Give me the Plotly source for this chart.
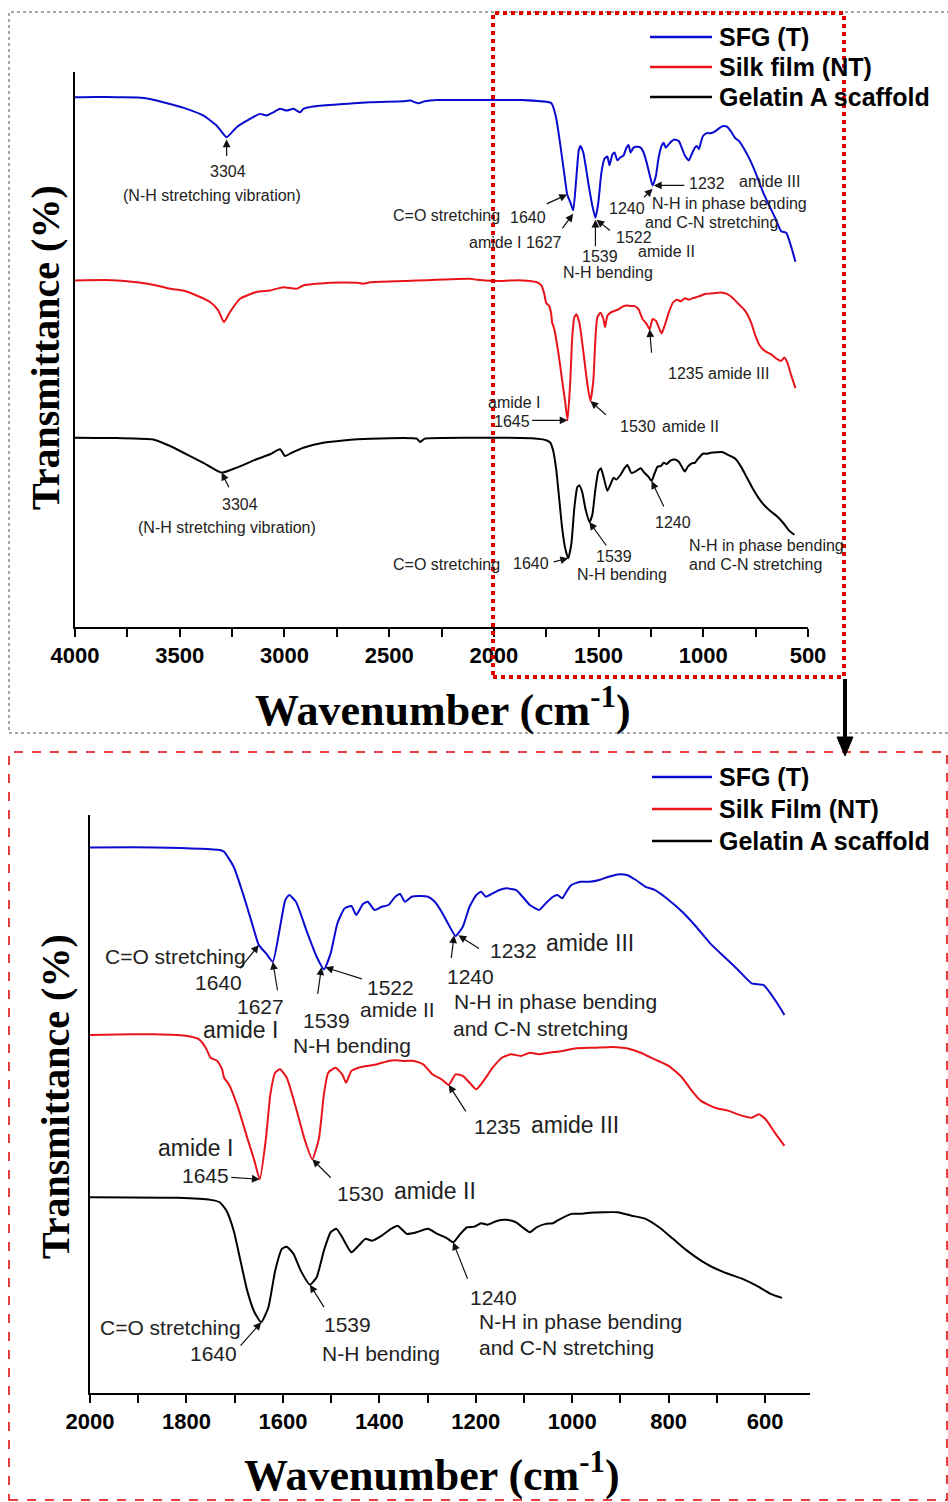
import plotly.graph_objects as go

W, H = 948, 1502

# ---------------- data (wavenumber cm-1, transmittance a.u.) ----------------
BLUE_WN = [4000, 3900, 3800, 3700, 3642, 3546, 3467, 3386, 3323, 3276,
           3228, 3164, 3117, 3085, 3053, 3021, 2989, 2957, 2925, 2910,
           2862, 2750, 2591, 2432, 2400, 2360, 2330, 2273, 2114,
           2000, 1866, 1731, 1722, 1702, 1683, 1664, 1650, 1635, 1621,
           1607, 1595, 1587, 1573, 1549, 1530, 1515, 1501, 1487, 1472,
           1458, 1448, 1434, 1424, 1410, 1395, 1381, 1367, 1357, 1347,
           1333, 1319, 1299, 1285, 1271, 1256, 1242, 1227, 1213, 1199,
           1189, 1179, 1165, 1151, 1136, 1117, 1103, 1088, 1069, 1055,
           1040, 1031, 1021, 1012, 1002, 983, 964, 944, 925, 906,
           887, 868, 848, 829, 800, 772, 743, 714, 685, 656,
           628, 604, 589, 575, 560]
BLUE_T = [101.4, 101.6, 101.4, 101.3, 100.5, 97.9, 95.4, 91.9, 86.7, 80.7,
          85.9, 90.2, 92.8, 92.0, 93.6, 95.4, 94.5, 95.4, 93.6, 95.4,
          96.6, 97.6, 98.8, 99.3, 99.7, 98.3, 99.3, 100, 100,
          100, 100, 98.7, 97.8, 90.3, 77, 62, 51.2, 47, 42.8,
          58.7, 73.7, 76.2, 72.8, 57, 45.3, 39, 47, 62, 69.5,
          70.7, 66.2, 71.7, 72.8, 68.7, 70.3, 71.2, 75.3, 76.7, 72.8,
          75.3, 75.7, 75.3, 72.8, 67.8, 61.2, 55.7, 60.3, 70.3, 76.2,
          77.8, 75.3, 77, 78.7, 79.5, 78.7, 75.3, 71.2, 68.7, 72,
          75.3, 76.2, 74.5, 77.8, 81.2, 82.8, 82.8, 83.7, 85.3, 86.5,
          86.2, 83.7, 80.3, 78.7, 73.7, 67.8, 60.3, 52, 45.3, 38.7,
          32, 31.2, 27, 22, 16.2]

RED_WN = [4000, 3850, 3706, 3610, 3546, 3484, 3419, 3355, 3316, 3289,
          3260, 3212, 3133, 3069, 3005, 2942, 2910, 2782, 2650, 2623,
          2590, 2432, 2114, 2080,
          2000, 1914, 1866, 1798, 1774, 1760, 1750, 1736, 1726, 1722,
          1712, 1693, 1674, 1659, 1648, 1635, 1626, 1616, 1606, 1592,
          1573, 1554, 1539, 1525, 1515, 1506, 1491, 1477, 1469, 1458,
          1443, 1424, 1405, 1381, 1367, 1347, 1328, 1309, 1290, 1271,
          1256, 1242, 1227, 1213, 1199, 1184, 1165, 1146, 1127, 1107,
          1088, 1069, 1050, 1021, 992, 954, 916, 887, 858, 829,
          800, 772, 752, 733, 704, 676, 647, 628, 613, 599,
          580, 560]
RED_T = [100, 100.2, 99.1, 97.4, 95.7, 94.8, 92.2, 88.8, 84.5, 78.4,
         83.6, 90.5, 94, 94.8, 96.5, 95.7, 97.4, 98.8, 98.8, 98.3,
         99.1, 99.7, 100.9, 100.3,
         99.7, 100, 100, 99.2, 97.5, 93.3, 88.3, 86.7, 82.5, 78.3,
         75, 63.3, 48.3, 36.7, 27.5, 48.3, 70, 80.8, 82.5, 78.3,
         63.3, 46.7, 37.5, 48.3, 70, 80.8, 83.3, 80, 75.8, 81.7,
         83.3, 84.2, 85, 86.7, 87, 86.7, 86.7, 85, 80, 77.5,
         74.7, 80, 79.2, 75.8, 72.5, 76.7, 83.3, 88.3, 90, 89.2,
         90.8, 90, 90.8, 91.7, 93, 93.3, 93.7, 93, 90.8, 87.5,
         84.2, 78.3, 71.7, 66.7, 63.3, 61.7, 59.2, 58.3, 60, 57.5,
         50.8, 44.2]

BLACK_WN = [4000, 3800, 3626, 3546, 3467, 3387, 3300, 3228, 3133, 3069,
            3021, 2997, 2965, 2910, 2815, 2719, 2591, 2368, 2352, 2330,
            2114,
            2000, 1818, 1750, 1731, 1717, 1702, 1688, 1674, 1659, 1645,
            1630, 1616, 1602, 1592, 1578, 1563, 1544, 1530, 1515, 1501,
            1489, 1477, 1458, 1443, 1429, 1415, 1395, 1376, 1362, 1343,
            1323, 1299, 1280, 1261, 1247, 1232, 1218, 1203, 1189, 1175,
            1155, 1136, 1117, 1103, 1088, 1074, 1055, 1040, 1031, 1002,
            983, 964, 935, 906, 877, 848, 820, 791, 762, 733,
            709, 680, 647, 618, 589, 565]
BLACK_T = [100, 99.8, 99.1, 95.7, 91.4, 87, 81.9, 84.5, 88.8, 91.4,
           94, 90.5, 92.2, 94.8, 97.4, 98.6, 99.5, 99.5, 97.8, 99.5,
           100,
           100, 99.7, 98.7, 97.5, 93.3, 83.3, 68.3, 53.3, 42.5, 37.5,
           45, 63.3, 74.2, 75.3, 71.7, 63.3, 56.3, 60, 73.3, 82.5,
           84.2, 80, 72.5, 75.8, 79.2, 78.3, 80.8, 84.2, 85.8, 81.7,
           82.5, 84.2, 81.7, 79.7, 77.5, 81.7, 85, 85.3, 87, 86.3,
           88.3, 88.7, 87.5, 85, 82.5, 85, 86.7, 87, 88.3, 91.7,
           91.7, 92.2, 92.5, 92.5, 90.8, 89.2, 85, 79.2, 73.3, 68.3,
           65, 62, 59.2, 55.8, 51.7, 49.7]

SERIES_NAMES_TOP = ["SFG (T)", "Silk film (NT)", "Gelatin A scaffold"]
SERIES_NAMES_BOTTOM = ["SFG (T)", "Silk Film (NT)", "Gelatin A scaffold"]
TOP_TICKS = [4000, 3500, 3000, 2500, 2000, 1500, 1000, 500]
BOTTOM_TICKS = [2000, 1800, 1600, 1400, 1200, 1000, 800, 600]

# ---------------- styling ----------------
COLORS = ["#0b0bd0", "#e8141a", "#000000"]
OFFSETS = [0, -93.5, -175]   # vertical stacking of the spectra


def px(x):
    return x / W


def py(y):
    return 1 - y / H


fig = go.Figure()
data = [(BLUE_WN, BLUE_T), (RED_WN, RED_T), (BLACK_WN, BLACK_T)]
for i, (wn, t) in enumerate(data):
    y = [v + OFFSETS[i] for v in t]
    fig.add_trace(go.Scatter(x=wn, y=y, xaxis="x", yaxis="y", mode="lines",
                             line=dict(color=COLORS[i], width=2, shape="spline", smoothing=0.5),
                             showlegend=False, hoverinfo="skip"))
    wb = [w for w in wn if w <= 2000]
    yb = [v + OFFSETS[i] for w, v in zip(wn, t) if w <= 2000]
    fig.add_trace(go.Scatter(x=wb, y=yb, xaxis="x2", yaxis="y2", mode="lines",
                             line=dict(color=COLORS[i], width=2, shape="spline", smoothing=0.5),
                             showlegend=False, hoverinfo="skip"))

tickfont = dict(family="Liberation Sans, Arial", size=22, color="black", weight="bold")
common_x = dict(showline=True, linecolor="black", linewidth=2, ticks="outside", ticklen=8,
                tickwidth=2, tickcolor="black", showgrid=False, zeroline=False, tickfont=tickfont,
                automargin=False)
common_y = dict(showline=True, linecolor="black", linewidth=2, ticks="", showticklabels=False,
                showgrid=False, zeroline=False, automargin=False)

fig.update_layout(
    template="none",
    width=W, height=H, margin=dict(l=0, r=0, t=0, b=0, pad=0, autoexpand=False),
    paper_bgcolor="white", plot_bgcolor="rgba(0,0,0,0)",
    xaxis=dict(domain=[px(75), px(808)], range=[4000, 500], anchor="y",
               tickvals=TOP_TICKS,
               minor=dict(dtick=250, tick0=0, ticks="outside", ticklen=8, tickwidth=2, tickcolor="black"),
               **common_x),
    yaxis=dict(domain=[py(627), py(72)], range=[-173.1, 114.5], anchor="x", **common_y),
    xaxis2=dict(domain=[px(90), px(810)], range=[2000, 507], anchor="y2",
                tickvals=BOTTOM_TICKS,
                minor=dict(dtick=100, tick0=0, ticks="outside", ticklen=8, tickwidth=2, tickcolor="black"),
                **common_x),
    yaxis2=dict(domain=[py(1393), py(815)], range=[-172.9, 116.2], anchor="x2", **common_y),
)

annotations = []
TXT = "#222222"


def label(text, x, y, size, color=TXT):
    annotations.append(dict(x=px(x), y=py(y), xref="paper", yref="paper", text=text,
                            showarrow=False, xanchor="center", yanchor="middle",
                            font=dict(family="Liberation Sans, Arial", size=size, color=color)))


def arrow(xr, yr, wn, val, dx, dy):
    annotations.append(dict(x=wn, y=val, xref=xr, yref=yr, text="", showarrow=True,
                            ax=dx, ay=dy, axref="pixel", ayref="pixel",
                            arrowhead=2, arrowsize=1.3, arrowwidth=1.2, arrowcolor="#111111",
                            standoff=0))


# ---- top panel labels ----
S1 = 16
for t, x, y in [("3304", 228, 172), ("(N-H stretching vibration)", 212, 195),
                ("C=O stretching", 446, 216), ("1640", 528, 217),
                ("amide I 1627", 515, 242),
                ("1539", 600, 256), ("N-H bending", 608, 273),
                ("1522", 634, 237), ("amide II", 666, 251),
                ("1240", 627, 209),
                ("1232", 707, 183), ("amide III", 769, 182),
                ("N-H in phase bending", 729, 203), ("and C-N stretching", 711, 222),
                ("amide I", 514, 403), ("1645", 512, 421),
                ("1530", 638, 427), ("amide II", 690, 427),
                ("1235 amide III", 718, 374),
                ("3304", 240, 505), ("(N-H stretching vibration)", 227, 527),
                ("C=O stretching", 446, 564), ("1640", 531, 563),
                ("1539", 614, 556), ("N-H bending", 622, 574),
                ("1240", 673, 522),
                ("N-H in phase bending", 766, 545), ("and C-N stretching", 755, 564)]:
    label(t, x, y, S1)

o_r, o_k = OFFSETS[1], OFFSETS[2]
for wn, val, dx, dy in [(3276, 79.5, 0, 18), (1650, 51, -22, 10), (1621, 41, -12, 16),
                        (1515, 38, 0, 28), (1510, 38, 15, 12), (1242, 54, -10, 10),
                        (1236, 55.7, 32, 0),
                        (1648, 27.5 + o_r, -37, 0), (1539, 37.5 + o_r, 17, 15),
                        (1256, 74.7 + o_r, 2, 25),
                        (3300, 81.9 + o_k, 8, 16), (1645, 37.5 + o_k, -16, 4),
                        (1544, 56.3 + o_k, 18, 25), (1247, 77.5 + o_k, 13, 27)]:
    arrow("x", "y", wn, val, dx, dy)

# ---- bottom panel labels ----
S2, S3 = 21, 23
for t, x, y, s in [("C=O stretching", 175, 956, S2), ("1640", 218, 982, S2),
                   ("1627", 260, 1006, S2), ("amide I", 240, 1030, S3),
                   ("1539", 326, 1020, S2), ("N-H bending", 352, 1045, S2),
                   ("1522", 390, 987, S2), ("amide II", 397, 1010, S2),
                   ("1240", 470, 976, S2),
                   ("N-H in phase bending", 555, 1001, S2), ("and C-N stretching", 540, 1028, S2),
                   ("1232", 513, 950, S2), ("amide III", 590, 943, S3),
                   ("amide I", 195, 1148, S3), ("1645", 205, 1175, S2),
                   ("1530", 360, 1193, S2), ("amide II", 435, 1191, S3),
                   ("1235", 497, 1126, S2), ("amide III", 575, 1125, S3),
                   ("C=O stretching", 170, 1327, S2), ("1640", 213, 1353, S2),
                   ("1539", 347, 1324, S2), ("N-H bending", 381, 1353, S2),
                   ("1240", 493, 1297, S2), ("N-H in phase bending", 580, 1321, S2),
                   ("and C-N stretching", 566, 1347, S2)]:
    label(t, x, y, s)

for wn, val, dx, dy in [(1650, 51.2, -20, 25), (1621, 42.8, 5, 30), (1520, 40, -4, 28),
                        (1512, 40, 38, 12), (1245, 56, -3, 24), (1236, 56, 22, 14),
                        (1648, 27.5 + o_r, -30, -2), (1539, 37.5 + o_r, 20, 20),
                        (1256, 74.7 + o_r, 18, 28),
                        (1645, 37.5 + o_k, -22, 25), (1544, 56.3 + o_k, 15, 24),
                        (1247, 77.5 + o_k, 15, 38)]:
    arrow("x2", "y2", wn, val, dx, dy)

# ---- axis titles ----
title_font = dict(family="Liberation Serif, Times New Roman", size=44, color="black")
ytitle_font = dict(family="Liberation Serif, Times New Roman", size=40, color="black")
annotations.append(dict(x=px(443), y=py(707), xref="paper", yref="paper", showarrow=False,
                        text="<b>Wavenumber (cm<sup>-1</sup>)</b>", font=title_font,
                        xanchor="center", yanchor="middle"))
annotations.append(dict(x=px(432), y=py(1472), xref="paper", yref="paper", showarrow=False,
                        text="<b>Wavenumber (cm<sup>-1</sup>)</b>", font=title_font,
                        xanchor="center", yanchor="middle"))
annotations.append(dict(x=px(45), y=py(348), xref="paper", yref="paper", showarrow=False,
                        text="<b>Transmittance (%)</b>", font=ytitle_font, textangle=-90,
                        xanchor="center", yanchor="middle"))
annotations.append(dict(x=px(55), y=py(1097), xref="paper", yref="paper", showarrow=False,
                        text="<b>Transmittance (%)</b>", font=ytitle_font, textangle=-90,
                        xanchor="center", yanchor="middle"))

shapes = []
# ---- legends ----
leg_font = dict(family="Liberation Sans, Arial", size=25, color="black")
for names, ys, x0, x1 in [(SERIES_NAMES_TOP, [37, 67, 97], 650, 712),
                          (SERIES_NAMES_BOTTOM, [777, 809, 841], 652, 712)]:
    for i, (nm, yy) in enumerate(zip(names, ys)):
        shapes.append(dict(type="line", xref="paper", yref="paper", x0=px(x0), x1=px(x1),
                           y0=py(yy), y1=py(yy), line=dict(color=COLORS[i], width=2.5)))
        annotations.append(dict(x=px(717), y=py(yy), xref="paper", yref="paper", showarrow=False,
                                text="<b>" + nm + "</b>", font=leg_font,
                                xanchor="left", yanchor="middle"))

# ---- frames ----
shapes.append(dict(type="rect", xref="paper", yref="paper", x0=px(9), x1=px(950), y0=py(733), y1=py(12),
                   line=dict(color="#8a8a8a", width=1.5, dash="dot")))
shapes.append(dict(type="rect", xref="paper", yref="paper", x0=px(493), x1=px(844), y0=py(677), y1=py(13),
                   line=dict(color="#e00000", width=4, dash="dot")))
shapes.append(dict(type="rect", xref="paper", yref="paper", x0=px(9), x1=px(947), y0=py(1500), y1=py(752),
                   line=dict(color="#e00000", width=1.5, dash="dash")))
shapes.append(dict(type="line", xref="paper", yref="paper", x0=px(845), x1=px(845), y0=py(679), y1=py(740),
                   line=dict(color="black", width=4)))
shapes.append(dict(type="path", xref="paper", yref="paper",
                   path=f"M {px(837)},{py(737)} L {px(853)},{py(737)} L {px(845)},{py(756)} Z",
                   fillcolor="black", line=dict(color="black", width=1)))

fig.update_layout(annotations=annotations, shapes=shapes)
fig.write_html("out.html")
